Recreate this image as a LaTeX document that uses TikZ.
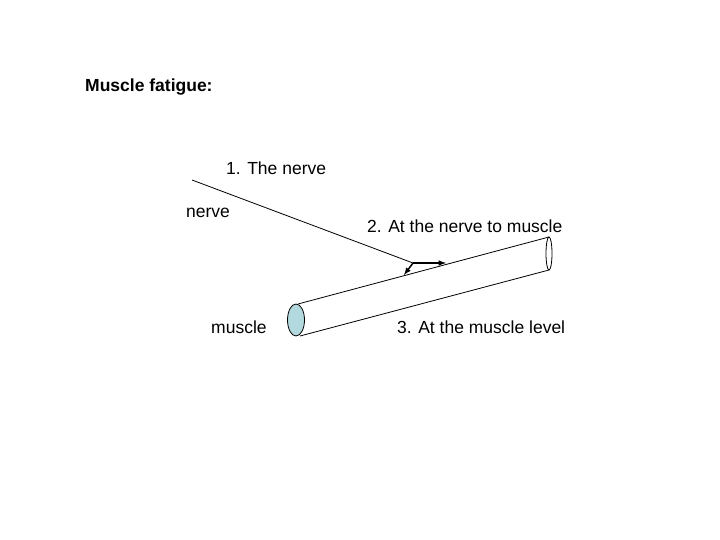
\documentclass[tikz,border=0pt]{standalone}
\usepackage{fontspec}
\setmainfont{Liberation Sans}
\definecolor{cylfill}{RGB}{178,218,222}
\begin{document}
\begin{tikzpicture}[x=1pt,y=-1pt,lbl/.style={font=\fontsize{17.5}{20}\selectfont,inner sep=0pt},
 ln/.style={draw=black,line width=0.8pt},arr/.style={draw=black,line width=1.5pt,-latex}]
\useasboundingbox (0,0) rectangle (720,540);
\node[lbl,font=\bfseries\fontsize{17.5}{20}\selectfont,anchor=west] (title) at (85,87) {Muscle fatigue:};
\node[lbl,anchor=west] (l1) at (226,168) {1. The nerve};
\node[lbl,anchor=west] (l2) at (186,213) {nerve};
\node[lbl,anchor=west] (l3) at (367,226) {2. At the nerve to muscle};
\node[lbl,anchor=west] (l4) at (211,327) {muscle};
\node[lbl,anchor=west] (l5) at (397,327) {3. At the muscle level};
\coordinate (ns) at (192,180);
\coordinate (ne) at (413,263);
\coordinate (a1) at (404,275);
\coordinate (a2) at (446,263);
\draw[ln] (ns) -- (ne);
\draw[arr] (ne) -- (a1);
\draw[arr] (ne) -- (a2);
\draw[ln] (298,304) -- (549,237);
\draw[ln] (300,336) -- (549,270);
\draw[ln,fill=cylfill] (296,320) ellipse [x radius=8.5, y radius=16];
\draw[ln,fill=white] (549,253.5) ellipse [x radius=3, y radius=16.5];
\end{tikzpicture}
\end{document}
